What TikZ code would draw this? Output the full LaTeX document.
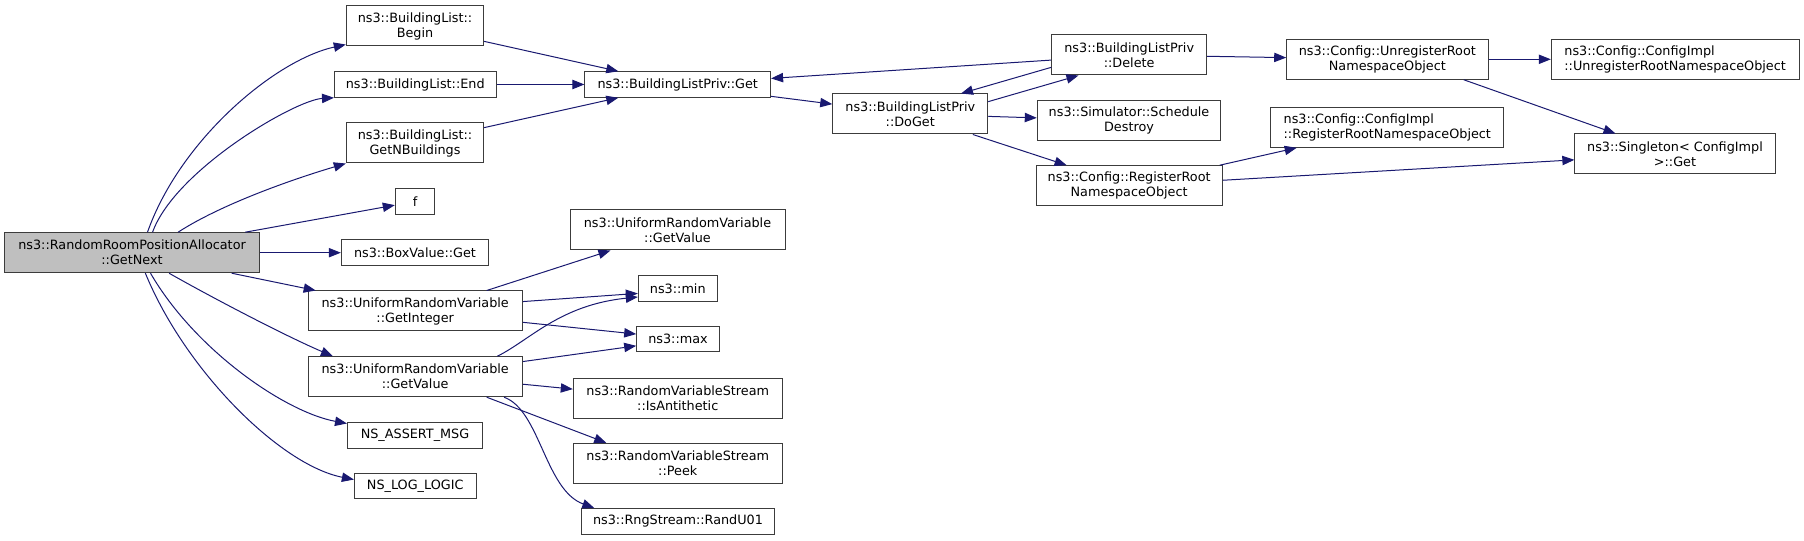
\documentclass[tikz,border=0pt]{standalone}
\usepackage{fontspec}
\setmainfont{DejaVu Sans}
\usetikzlibrary{arrows.meta}
\definecolor{edgeblue}{RGB}{25,25,112}
\definecolor{boxline}{RGB}{60,60,60}
\definecolor{rootfill}{RGB}{191,191,191}
\begin{document}
\begin{tikzpicture}[x=0.75pt,y=-0.75pt,
  fn/.style={draw=boxline, line width=0.75pt, fill=white, inner sep=0pt, align=center,
    font=\fontsize{9.6}{11.25}\selectfont, minimum height=40*0.75pt},
  one/.style={minimum height=25.5*0.75pt},
  wd/.style={minimum width=#1*0.75pt},
  root/.style={fill=rootfill},
  call/.style={draw=edgeblue, line width=0.75pt, -{Triangle[length=9pt,width=7pt]}}]
\useasboundingbox (0,0) rectangle (1804,541);
% column 1
\node[fn,root,wd=254.9] (getnext) at (132.05,252.7) {ns3::RandomRoomPositionAllocator\\::GetNext};
% column 2
\node[fn,wd=137.4] (begin) at (415,26) {ns3::BuildingList::\\Begin};
\node[fn,one,wd=161.5] (endn) at (415.25,84.5) {ns3::BuildingList::End};
\node[fn,wd=137.4] (getnb) at (415,143) {ns3::BuildingList::\\GetNBuildings};
\node[fn,one,wd=39.4] (f) at (415,201.5) {f};
\node[fn,one,wd=147.3] (boxget) at (415,252.7) {ns3::BoxValue::Get};
\node[fn,wd=214.4] (getint) at (415.2,311) {ns3::UniformRandomVariable\\::GetInteger};
\node[fn,wd=214.4] (getval) at (415.2,376.7) {ns3::UniformRandomVariable\\::GetValue};
\node[fn,one,wd=135] (assert) at (415,435.5) {NS\_ASSERT\_MSG};
\node[fn,one,wd=121.6] (loglogic) at (415.2,486) {NS\_LOG\_LOGIC};
% column 3
\node[fn,one,wd=185.7] (blget) at (677.75,84.5) {ns3::BuildingListPriv::Get};
\node[fn,wd=215] (ugv) at (677.5,230) {ns3::UniformRandomVariable\\::GetValue};
\node[fn,one,wd=79] (minn) at (677.8,288.5) {ns3::min};
\node[fn,one,wd=82.6] (maxn) at (678,339.2) {ns3::max};
\node[fn,wd=208.9] (isanti) at (677.75,398.3) {ns3::RandomVariableStream\\::IsAntithetic};
\node[fn,wd=208.9] (peek) at (677.75,463.3) {ns3::RandomVariableStream\\::Peek};
\node[fn,one,wd=192.6] (randu) at (678,521.3) {ns3::RngStream::RandU01};
% column 4
\node[fn,wd=155] (doget) at (910.25,114) {ns3::BuildingListPriv\\::DoGet};
% column 5
\node[fn,wd=155] (delete) at (1129.2,55) {ns3::BuildingListPriv\\::Delete};
\node[fn,wd=183.4] (sched) at (1129,120.7) {ns3::Simulator::Schedule\\Destroy};
\node[fn,wd=186.3] (regroot) at (1129.15,185.7) {ns3::Config::RegisterRoot\\NamespaceObject};
% column 6
\node[fn,wd=201.3] (unreg) at (1387.35,59.3) {ns3::Config::UnregisterRoot\\NamespaceObject};
\node[fn,wd=233.2,align=left] (cireg) at (1387.3,127.3) {ns3::Config::ConfigImpl\\::RegisterRootNamespaceObject};
% column 7
\node[fn,wd=247.7,align=left] (ciunreg) at (1675.15,59.3) {ns3::Config::ConfigImpl\\::UnregisterRootNamespaceObject};
\node[fn,wd=200.3] (singleton) at (1675,154) {ns3::Singleton< ConfigImpl\\>::Get};

% edges from GetNext
\draw[call] (getnext.53.7) .. controls (180,140) and (275,60) .. (begin.195.5);
\draw[call] (getnext.45.4) .. controls (175,170) and (295,100) .. (endn.south west);
\draw[call] (getnext.24.1) .. controls (220,205) and (290,180) .. (getnb.south west);
\draw[call] (getnext) -- (f);
\draw[call] (getnext) -- (boxget);
\draw[call] (getnext) -- (getint);
\draw[call] (getnext.-29) .. controls (220,302) and (290,338) .. (getval.166);
\draw[call] (getnext.-48) .. controls (195,350) and (285,412) .. (assert.170);
\draw[call] (getnext.-57) .. controls (185,370) and (280,465) .. (loglogic.174);
% to BuildingListPriv::Get
\draw[call] (begin) -- (blget);
\draw[call] (endn) -- (blget);
\draw[call] (getnb) -- (blget);
\draw[call] (blget) -- (doget);
\draw[call] (doget.9.5) -- (delete.202.1);
\draw[call] (delete.189) -- (doget.22.7);
\draw[call] (delete) -- (blget);
\draw[call] (doget) -- (sched);
\draw[call] (doget) -- (regroot);
\draw[call] (delete) -- (unreg);
\draw[call] (unreg) -- (ciunreg);
\draw[call] (unreg.-15.7) -- (singleton.161.3);
\draw[call] (regroot) -- (cireg);
\draw[call] (regroot) -- (singleton);
% uniform random variable
\draw[call] (getint.16.7) -- (ugv.197.3);
\draw[call] (getint.5.2) -- (minn.187.9);
\draw[call] (getint.-6.3) -- (maxn.173.8);
\draw[call] (getval.14.8) .. controls (530,340) and (560,305) .. (minn.192.1);
\draw[call] (getval.8.2) -- (maxn.189.9);
\draw[call] (getval.-4.5) -- (isanti.175);
\draw[call] (getval.-16.3) -- (peek.164.3);
\draw[call] (getval.-13) .. controls (540,410) and (545,490) .. (randu.171.9);
\end{tikzpicture}
\end{document}
